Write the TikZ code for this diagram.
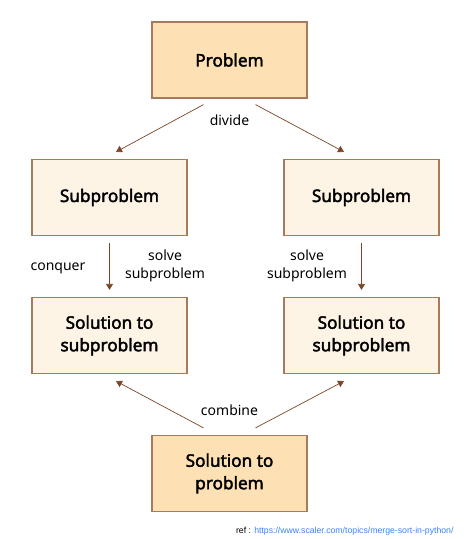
\documentclass[tikz,border=0pt]{standalone}
\usepackage{fontspec}
\setmainfont{Noto Sans}[AutoFakeBold=2.2]
\newfontfamily\reffont{Liberation Sans}
\usetikzlibrary{arrows.meta}
\definecolor{peach}{HTML}{FDE1B5}
\definecolor{cream}{HTML}{FEF4E6}
\definecolor{boxline}{HTML}{A87A5C}
\definecolor{arrowbrown}{HTML}{7B4526}
\definecolor{reflink}{HTML}{3B82F6}
\tikzset{
  stepbox/.style={draw=boxline, line width=1.2pt, rectangle, minimum width=155pt,
    minimum height=76pt, align=center, font=\fontsize{17.2}{22.5}\selectfont\bfseries},
  mainbox/.style={stepbox, fill=peach},
  subbox/.style={stepbox, fill=cream},
  tag/.style={font=\fontsize{14}{18}\selectfont, align=center},
  flow/.style={draw=arrowbrown, line width=0.7pt, -{Triangle[width=7pt,length=6pt]}}
}

\begin{document}
\begin{tikzpicture}[x=1pt, y=-1pt]
    \useasboundingbox (0,0) rectangle (464,539);

    \node[mainbox] (prob) at (229.5,60) {Problem};
    \node[subbox] (sub1) at (109.5,197.5) {Subproblem};
    \node[subbox] (sub2) at (361.5,197.5) {Subproblem};
    \node[subbox] (sol1) at (109.5,335.5) {Solution to\\subproblem};
    \node[subbox] (sol2) at (361.5,335.5) {Solution to\\subproblem};
    \node[mainbox] (final) at (229.5,473.5) {Solution to\\problem};

    \node[tag] (divide) at (229.5,120) {divide};
    \node[tag] (conquer) at (58,268) {conquer};
    \node[tag] (solve1) at (165,266) {solve\\subproblem};
    \node[tag] (solve2) at (307,266) {solve\\subproblem};
    \node[tag] (combine) at (229.5,410) {combine};

    \draw[flow] ([xshift=-26pt,yshift=-6pt]prob.south) -- ([xshift=6.5pt,yshift=7pt]sub1.north);
    \draw[flow] ([xshift=26pt,yshift=-6pt]prob.south) -- ([xshift=-17.5pt,yshift=7pt]sub2.north);
    \draw[flow] ([yshift=-7pt]sub1.south) -- ([yshift=7pt]sol1.north);
    \draw[flow] ([yshift=-7pt]sub2.south) -- ([yshift=7pt]sol2.north);
    \draw[flow] ([xshift=-26pt,yshift=7pt]final.north) -- ([xshift=6.5pt,yshift=-7pt]sol1.south);
    \draw[flow] ([xshift=26pt,yshift=7pt]final.north) -- ([xshift=-17.5pt,yshift=-7pt]sol2.south);

    \node[anchor=east, font=\reffont\fontsize{8.7}{10}\selectfont] (ref) at (457,531)
      {ref : \textcolor{reflink}{https://www.scaler.com/topics/merge-sort-in-python/}};
  \end{tikzpicture}
\end{document}
